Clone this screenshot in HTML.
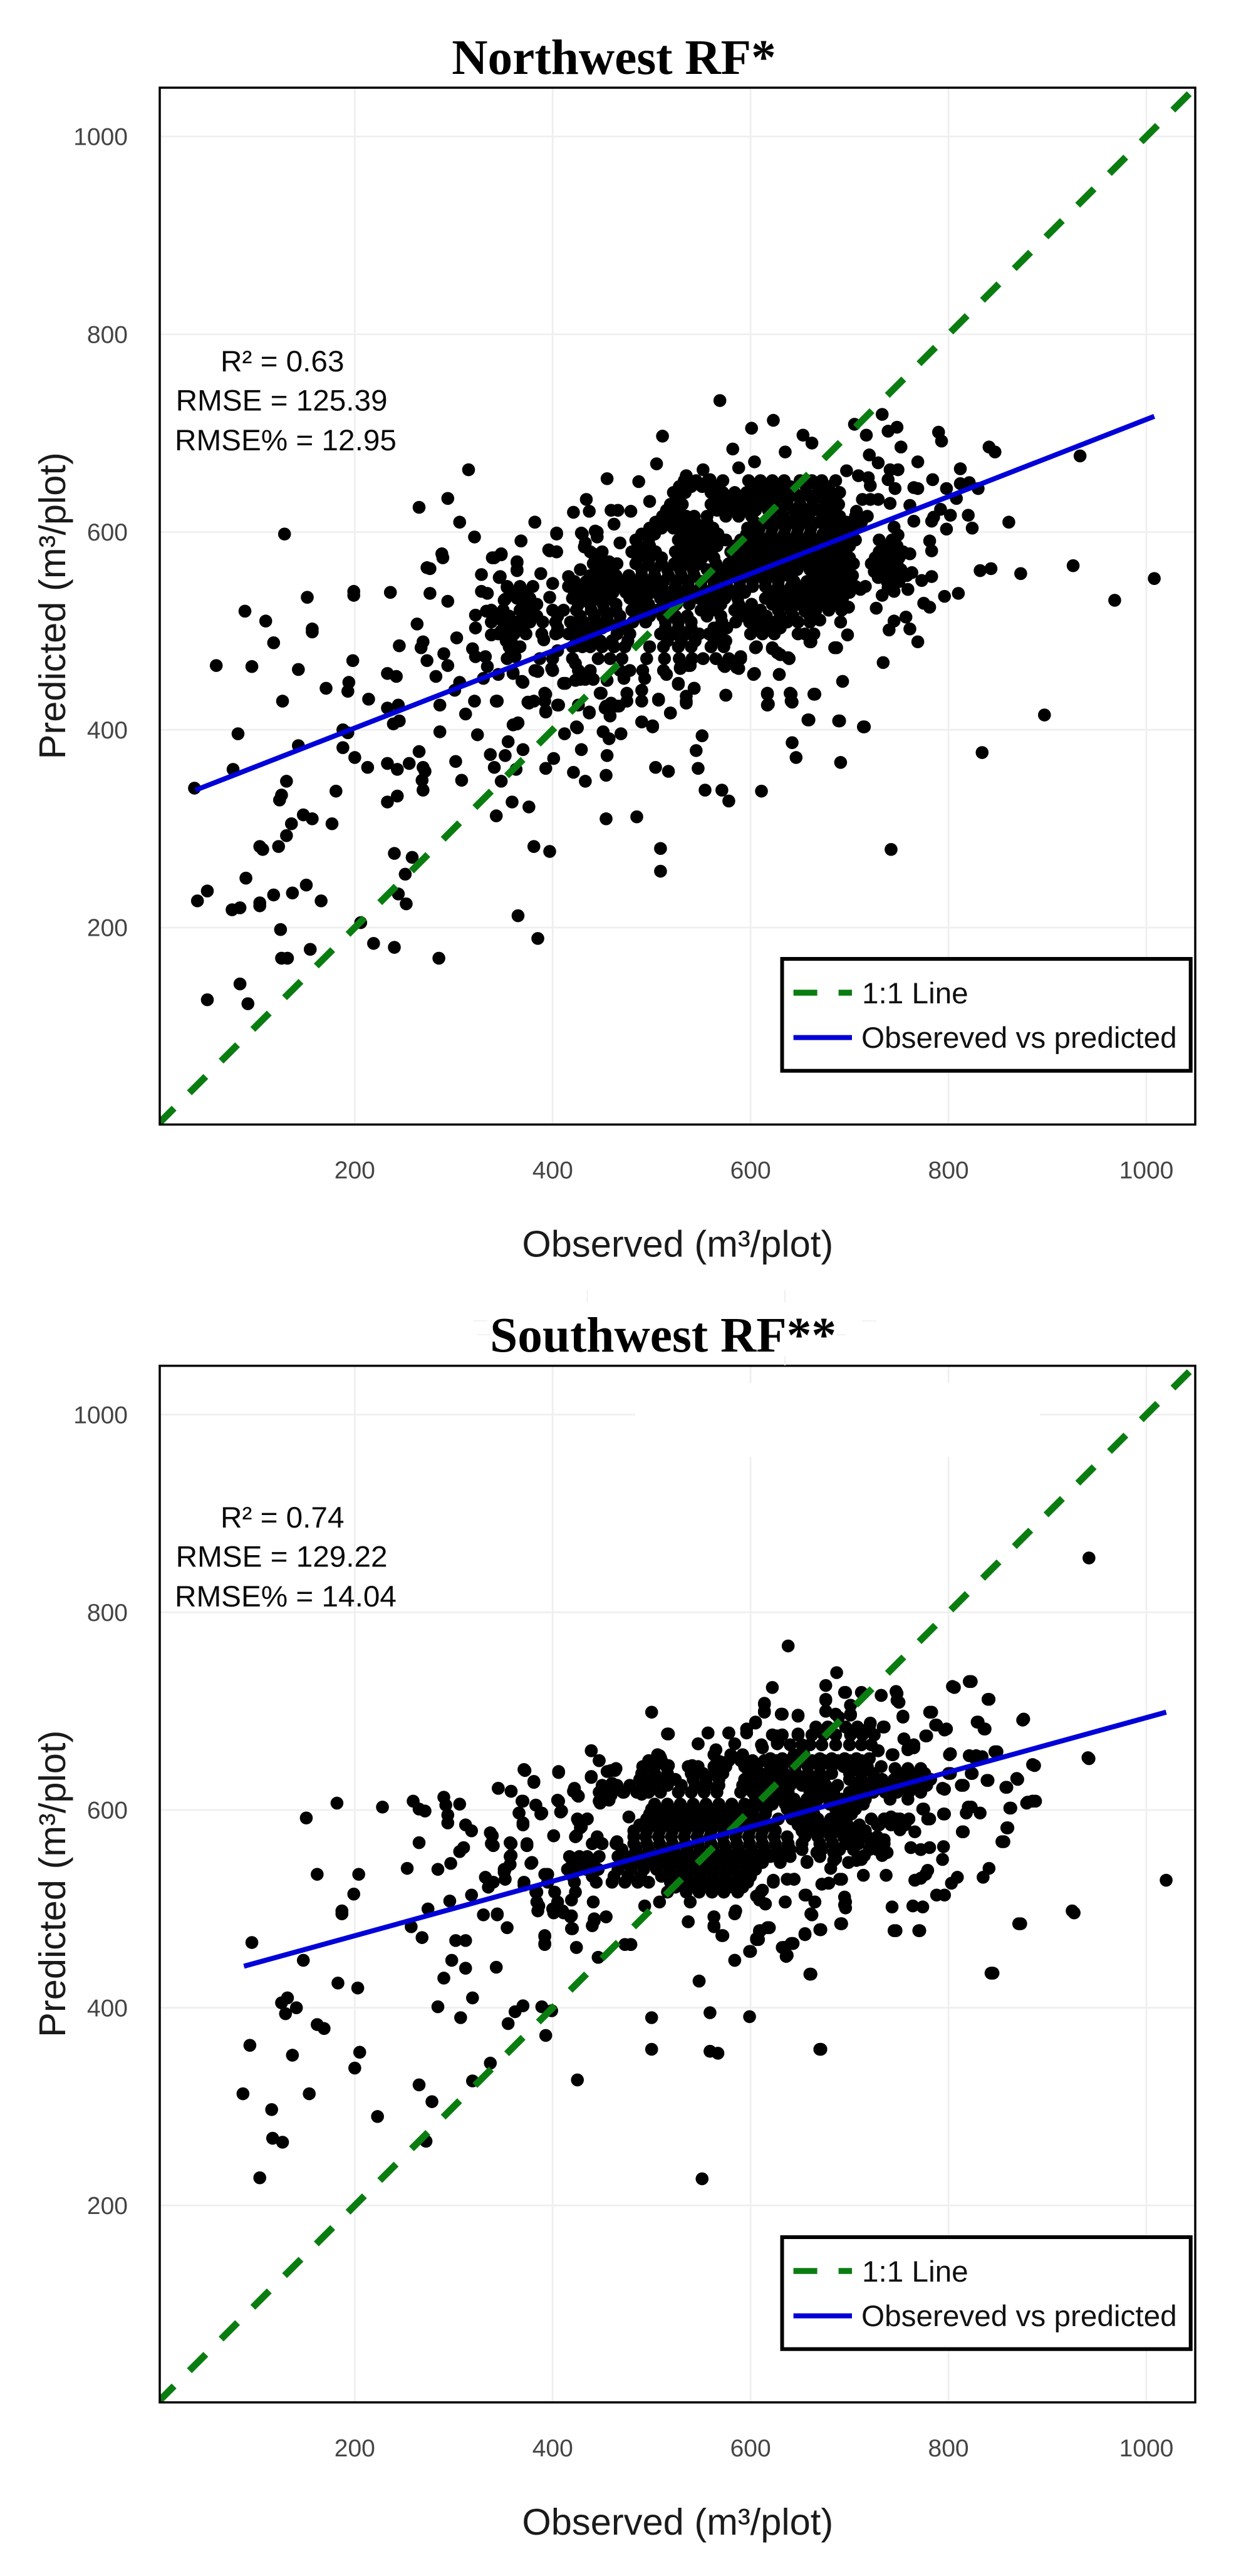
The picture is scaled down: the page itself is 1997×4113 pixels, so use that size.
<!DOCTYPE html>
<html lang="en">
<head>
<meta charset="utf-8">
<title>Observed vs predicted: Northwest RF and Southwest RF</title>
<style>
html,body{margin:0;padding:0;background:#fff;}
svg{display:block;}
</style>
</head>
<body>
<svg id="figure" xmlns="http://www.w3.org/2000/svg" width="1997" height="4113" viewBox="0 0 1997 4113"></svg>
<script>
const xTickValues = [200, 400, 600, 800, 1000];
const yTickValues = [200, 400, 600, 800, 1000];
const axisDomain = [2.9, 1049.4];
const yAxisDomain = [0.8, 1049.4];
const oneToOneRange = [0.8, 1049.4];

const nwTitle = "Northwest RF*";
const nwStats = ["R² = 0.63", "RMSE = 125.39", "RMSE% = 12.95"];
const nwFitObserved = [39, 1008];
const nwFitPredicted = [339, 717];

const swTitle = "Southwest RF**";
const swStats = ["R² = 0.74", "RMSE = 129.22", "RMSE% = 14.04"];
const swFitObserved = [88, 1020];
const swFitPredicted = [442, 699];

const nwPoints = [
[315,663],[294,634],[265,625],[306,610],[129,598],[321,595],[288,578],[289,574],[273,564],[276,563],[276,538],[199,540],[199,536],[236,539],[294,530],[152,534],[89,520],[110,510],[263,507],[157,502],[328,557],[341,574],[348,577],[364,570],[364,562],[368,591],[382,610],[404,599],[397,581],[404,580],[421,620],[434,633],[437,621],[455,654],[459,622],[466,622],[462,608],[429,599],[443,601],[445,595],[433,589],[468,589],[441,578],[457,570],[346,554],
[118,488],[157,499],[60,465],[96,464],[143,461],[198,470],[245,485],[269,489],[267,483],[303,493],[273,470],[290,477],[294,465],[282,454],[233,457],[242,454],[171,442],[194,448],[193,439],[127,429],[214,431],[233,422],[244,425],[245,409],[239,406],[286,425],[286,398],[82,396],[188,400],[193,397],[143,384],[188,382],[200,372],[213,362],[233,366],[243,360],[255,366],[265,378],[269,362],[271,358],[268,349],[269,339],[302,368],[308,349],[77,360],[38,341],[131,348],[181,338],[126,334],[124,329],[233,327],[243,333],[148,314],[157,310],[136,305],[177,305],[131,293],[123,282],[104,282],[107,279],[240,275],[258,271],[251,254],[90,250],[151,243],[51,237],[41,227],[166,227],[137,235],[118,233],[104,225],[104,222],[76,218],[84,220],[244,234],[252,224],[125,198],[206,205],[219,184],[240,180],[155,178],[126,169],[132,169],[285,169],[84,143],[51,127],[92,123],[365,212],[385,189],[381,282],[397,277],[454,310],[343,313],[359,327],[376,322],[348,348],[421,357],[433,348],[454,354],[393,361],[401,371],[455,374],[429,380],[337,375],[341,362],[352,374],[355,388],[370,380],[363,360],[324,395],[365,407],[360,405],[412,396],[425,402],[451,398],[457,391],[469,396],[312,416],[321,429],[343,429],[376,427],[393,436],[393,419],[406,425],[437,417],[449,437],[458,414],[453,422],[465,424],[433,451],[423,450],[413,447],[385,459],[399,462],[370,448],[330,452],[301,440],[306,448],[345,456],[360,457],[319,482],[322,474],[332,474],[334,464],
[897,415],[834,377],[742,279],[509,280],[509,257],[485,312],[611,338],[554,339],[571,339],[578,328],[504,362],[517,358],[547,361],[545,379],[551,394],[642,387],[646,372],[691,367],[659,410],[690,409],[715,403],[665,436],[641,436],[642,428],[617,436],[618,426],[575,435],[693,449],[734,468],[769,489],[761,502],[740,501],[687,483],[698,496],[660,489],[638,473],[629,456],[604,457],[606,484],[622,482],[630,476],[588,462],[590,474],[573,465],[537,465],[529,462],[527,447],[543,442],[535,429],[519,417],[507,431],[490,408],[501,403],
[569,733],[623,713],[601,705],[511,697],[653,698],[662,690],[635,681],[582,684],[588,665],[604,671],[505,669],[487,651],[552,663],[535,657],[559,653],[498,631],[479,621],[733,719],[705,709],[717,698],[739,702],[748,706],[752,686],[790,701],[793,692],[720,678],[729,670],[769,671],[812,664],[841,686],[847,681],[697,662],[709,657],[719,655],[721,647],[741,663],[749,663],[739,653],[746,644],[769,644],[765,645],[784,653],[798,644],[812,649],[821,650],[830,644],[808,634],[861,610],[933,677],[761,627],[741,629],[707,621],[713,633],[721,633],[729,633],[765,611],[783,611],[785,615],[792,623],[802,617],[798,603],[820,617],[824,604],[781,591],[783,581],[832,561],[843,563],[873,558],[926,566],[1008,553],[968,531],[810,538],[796,535],[775,528],[781,524],[727,523],[763,559],[773,551],[783,555],[725,560],[729,554],[759,542],[745,540],[733,536],[739,544],[741,582],[753,578],[761,578],[741,570],[745,564],[749,597],[745,605],[757,514],[745,510],[670,511],[691,509],[711,542],[699,524],
[533,652],[545,652],[557,652],[572,652],[598,652],[610,652],[622,652],[634,652],[650,652],[662,652],[672,652],[686,652],
[522,640],[534,640],[560,640],[572,640],[584,640],[596,640],[608,640],[620,640],[632,640],[644,640],[656,640],[668,640],[680,640],[690,640],
[519,628],[531,628],[560,628],[572,628],[585,628],[598,628],[611,628],[624,628],[637,628],[650,628],[663,628],[676,628],[689,628],
[511,616],[523,616],[535,616],[543,616],[556,616],[575,616],[588,616],[601,616],[620,616],[633,616],[646,616],[659,616],[677,616],[690,616],[706,616],[718,616],
[498,604],[510,604],[522,604],[537,604],[550,604],[562,604],[597,604],[609,604],[622,604],[635,604],[648,604],[661,604],[678,604],[691,604],[704,604],
[484,592],[497,592],[527,592],[539,592],[551,592],[563,592],[575,592],[590,592],[602,592],[615,592],[628,592],[641,592],[654,592],[667,592],[680,592],[693,592],[706,592],[730,592],[743,592],
[438,580],[450,580],[480,580],[492,580],[504,580],[524,580],[536,580],[548,580],[560,580],[580,580],[592,580],[605,580],[618,580],[631,580],[644,580],[657,580],[670,580],[683,580],[696,580],[730,580],[742,580],[754,580],[430,598],[445,600],[432,585],
[441,568],[453,568],[465,568],[484,568],[497,568],[510,568],[523,568],[536,568],[549,568],[565,568],[578,568],[591,568],[604,568],[617,568],[630,568],[643,568],[656,568],[669,568],[682,568],[695,568],[704,568],[722,568],[735,568],[748,568],
[438,556],[451,556],[464,556],[477,556],[490,556],[503,556],[517,556],[530,556],[543,556],[560,556],[573,556],[586,556],[599,556],[612,556],[625,556],[638,556],[664,556],[677,556],[690,556],[703,556],[733,556],[746,556],[758,556],[416,555],[428,562],[388,558],[347,555],[364,561],[364,569],[348,578],[339,574],[368,591],[396,582],[404,580],[404,598],[382,610],
[354,545],[367,545],[380,545],[400,548],[416,545],[429,545],[442,545],[455,545],[468,545],[481,545],[494,545],[507,545],[524,545],[537,545],[550,545],[563,545],[576,545],[589,545],[602,545],[615,545],[628,545],[641,545],[654,545],[667,545],[680,545],[693,545],[706,545],[716,545],
[364,533],[377,533],[351,531],[397,534],[420,533],[432,533],[445,533],[458,533],[478,533],[490,533],[509,533],[522,533],[535,533],[548,533],[561,533],[574,533],[587,533],[615,533],[628,533],[641,533],[654,533],[667,533],[680,533],[693,533],
[338,521],[350,521],[367,521],[379,521],[400,521],[411,521],[424,521],[439,521],[452,521],[464,521],[480,521],[493,521],[506,521],[519,521],[550,521],[565,521],[584,521],[597,521],[610,521],[628,521],[641,521],[655,520],[666,521],[679,521],[692,521],
[338,509],[350,509],[364,509],[377,509],[390,509],[403,509],[418,509],[431,509],[444,509],[456,509],[468,509],[481,509],[494,509],[514,509],[527,509],[540,509],[571,509],[585,509],[599,509],[612,509],[625,509],[637,509],[648,509],[660,509],
[348,497],[361,497],[373,497],[389,497],[403,497],[416,497],[429,497],[442,497],[465,497],[478,497],[509,497],[522,497],[535,497],[548,497],[558,497],[570,497],[600,497],[612,497],[624,497],[648,497],[655,497],[664,497],
[356,484],[367,484],[420,484],[430,484],[438,484],[450,484],[462,484],[473,484],[498,484],[512,484],[527,484],[540,484],[560,484],[573,484],[605,483],[622,483],[627,478],[639,472],[661,489],[685,483],
[354,472],[387,472],[400,472],[420,472],[446,472],[458,472],[470,472],[495,472],[513,472],[528,472],[541,472],[552,472],[565,472],[578,472],[590,472],
[382,460],[400,460],[426,460],[438,460],[468,460],[478,460],[491,460],[512,460],[529,463],[539,465],[574,464],[586,463],[603,456],[629,456],
[369,449],[411,447],[428,451],[441,451],[455,450],[472,452],[493,452],[515,456],[527,446],[543,442],
[392,437],[392,429],[448,437],[475,437],[490,440],[490,429],[507,430],[535,434],[535,427],[575,435],[617,437],[617,425],[640,437],[641,429],[664,436],[344,429],[375,428],[381,429],[405,425],[426,425],[454,424],[467,424],[459,427],[475,429],
[393,418],[437,418],[458,414],[519,417],[364,406],[424,403],[490,408],[501,404],[658,410],[689,409],[714,403],
[322,516],[333,520],[350,512],[322,503],[345,497],[358,490],[354,544],[328,540],[334,538],[352,532],[366,540],[370,528],[338,496],[348,500],[358,480],[362,474],[360,458],[391,491],[405,498],[405,480],[423,485],[423,467]
];

const nwDensePredicted = [646,634,622,610,598,586,574,562,550,539,527,515,503,490];
const nwDenseObserved = [
[528,540,551,566,604,616,628,640,656,668,679],
[525,566,578,590,602,614,626,638,650,662,674,685],
[515,527,566,579,592,605,618,631,644,656,669,682],
[504,516,529,544,556,604,615,628,641,654,669,684,697,712],
[490,503,531,543,555,567,596,608,621,634,647,660,673,686,699],
[486,498,530,542,554,566,584,596,609,622,635,648,661,674,687,700,736,748],
[444,486,498,510,527,539,551,563,585,598,611,624,637,650,663,676,689,700,726,738,750],
[445,458,490,503,516,529,542,556,569,582,595,608,621,634,647,660,673,686,699,728,740,752],
[422,434,447,460,473,486,499,512,525,537,550,563,576,589,602,615,628,644,657,670,683,696,738,750],
[360,372,422,435,448,461,474,487,500,516,529,542,555,568,581,594,621,634,647,660,673,686,700],
[370,384,426,438,451,464,484,497,512,525,538,556,570,588,601,622,635,648,661,674,687],
[344,356,371,384,405,428,442,455,468,485,498,511,524,536,556,570,590,603,616,630,643,660],
[354,367,405,424,437,450,471,514,527,540,563,576,605,617,630],
[353,424,436,448,460,476,516,530,544,563,575]
];

const swPoints = [
[96,466],[148,448],[187,495],[257,482],[268,471],[302,468],[312,468],[298,448],[312,440],[343,441],[290,430],[183,425],[203,420],[319,410],[284,401],[307,390],[132,410],[126,405],[130,394],[141,400],[162,383],[169,379],[355,384],[362,396],[370,402],[389,401],[399,397],[393,372],[94,362],[137,352],[205,355],[200,339],[337,344],[319,326],[425,327],[265,322],[278,305],[87,313],[154,313],[116,297],[223,290],[117,268],[127,264],[272,265],[104,228],
[354,481],[392,472],[392,464],[420,480],[424,461],[446,451],[442,488],[454,492],[473,464],[330,494],[344,494],[385,498],[401,496],[411,496],[419,493],
[479,464],[537,487],[563,492],[563,482],[571,473],[584,495],[584,448],[600,457],[608,469],[610,478],[619,481],[634,461],[642,465],[637,453],[655,475],[671,479],[692,485],[662,494],[661,434],[548,427],[747,478],[771,478],[873,485],[845,435],[927,496],[500,390],[559,395],[599,391],[500,358],[559,356],[567,354],[671,358],[551,227],
[151,592],[182,607],[228,603],[259,609],[265,601],[271,599],[290,613],[292,605],[306,606],[294,595],[294,587],[312,585],[318,579],[265,567],[310,562],[306,558],[162,535],[204,535],[253,541],[284,540],[297,546],[199,515],[187,498],[296,508],[274,500],[318,514],[332,532],[335,522],[337,577],[340,564],[345,622],[358,619],[372,640],[381,628],[370,609],[366,597],[370,587],[383,605],[389,597],[358,566],[358,554],[374,564],[401,574],[378,546],[352,540],[352,530],[406,638],[439,660],[447,650],[439,633],[463,640],[455,639],[421,619],[425,615],[406,609],[409,599],[447,609],[459,625],[459,615],[425,591],[435,591],[429,583],[423,573],[445,573],[465,568],
[942,855],[638,766],[687,739],[806,724],[823,730],[841,712],[942,652],[1020,529],[622,724],[676,726],[696,719],[713,718],[732,716],[748,718],[750,709],[614,708],[614,700],[676,711],[676,700],[701,706],[701,696],[689,694],[500,699],[632,697],[648,696],[754,694],[783,699],[876,692],[830,689],[837,682],[788,686],[798,682],[778,675],[755,672],[765,663],[759,661],[605,688],[596,682],[557,678],[517,677],[547,667],[578,678],[584,667],[627,675],[628,669],[648,676],[735,684],[721,688],[612,663],[802,657],[826,653],[834,654],[849,659],[887,645],[744,656],[729,660],[565,661],[569,649],[509,653],[517,645],[493,643],[541,645],[541,641],[802,637],[824,637],[840,630],[870,631],[859,623],[815,625],[796,621],[863,602],[880,608],[888,609],[796,596],[823,603],[818,597],[832,597],[775,601],[781,591],[860,582],[856,568],[815,578],
[762,562],[772,560],[781,562],[795,563],[794,550],[772,531],[779,539],[766,529],[777,535],[803,526],[809,532],[835,532],[841,541],[788,514],[796,514],[764,503],[774,502],[743,502],[745,478],[770,478],[737,534],[714,534],[695,512],[695,504],[690,530],[679,526],[672,525],[684,549],[681,541],[684,557],[699,547],[712,550],[715,554],[707,549],[733,554],[738,557],[728,560],[729,570],[735,570],[712,580],[704,570],[699,580],[728,585],[735,591],[742,593],[751,591],[756,585],[751,580],[766,578],[774,601],[779,591],[795,596],[814,578],[820,603],[862,602],[859,582],[854,568],[879,607],[885,609],[885,646],[869,632],[858,623],[839,630],[813,625],[823,637],[800,637],[794,622],[828,655],[821,655],[847,659],[801,656],[743,656],[729,660],[732,644],[755,672],[759,662],[765,666],[777,675],[787,686],[796,681],[781,699],[754,695],[829,689],[836,682],[875,691],[840,712],[804,725],[821,730],[941,653],[925,498],[871,485],[843,435],[660,434],[670,358],[636,452],[634,461],[641,465],[655,474],[670,479],[692,485],[606,470],[609,477],[617,481],[661,495],[665,507],[655,514],[635,507],[615,505],[606,513],[611,518],[623,529],[644,530],[637,530],[657,547],[652,560],[667,557],[634,557],
[695,719],[712,719],[732,716],[747,720],[748,711],[676,712],[676,700],[701,706],[701,697],[614,707],[614,699],[631,697],[648,695],[605,689],[686,697],
[666,684],[678,684],[696,684],[708,684],[720,684],[734,684],[622,676],[632,676],[648,676],[662,676],[674,676],[686,676],[701,676],[713,676],[725,676],
[611,666],[627,668],[640,666],[652,666],[660,666],[672,666],[686,666],[700,666],[712,666],[722,666],
[506,656],[563,656],[580,656],[592,656],[644,656],[654,656],[620,652],[632,652],[643,652],[670,652],[682,652],[695,652],[707,652],[720,652],
[491,644],[503,644],[515,644],[537,644],[547,644],[563,644],[575,644],[594,644],[606,644],[620,644],[632,644],[645,644],[658,644],[670,644],[682,644],[694,644],[706,644],[718,644],[746,642],[759,642],[772,642],
[488,631],[500,631],[512,631],[524,631],[542,631],[555,631],[568,631],[594,631],[606,631],[618,631],[630,631],[642,631],[654,631],[666,631],[674,631],[700,631],[712,631],[724,631],[733,631],[745,631],[757,631],[770,631],[782,631],
[447,618],[459,618],[471,618],[485,618],[497,618],[509,618],[527,618],[540,618],[553,618],[566,618],[590,618],[602,618],[614,618],[626,618],[638,618],[660,618],[672,618],[684,618],[700,618],[712,618],[724,618],[736,618],[748,618],[760,618],[772,618],
[605,611],[618,611],[631,611],[644,611],[657,611],[668,611],[680,611],[692,611],[704,611],[716,611],[741,611],[759,611],
[500,601],[513,601],[526,601],[539,601],[552,601],[565,601],[578,601],[591,601],[603,601],[616,601],[637,601],[650,601],[662,601],[686,601],[698,601],[706,601],
[495,591],[508,591],[521,591],[534,591],[547,591],[560,591],[573,591],[586,591],[599,591],[612,591],[628,591],[642,591],[655,591],[668,591],[681,591],[694,591],[722,591],[735,591],[748,591],[760,591],
[482,579],[495,579],[508,579],[521,579],[534,579],[547,579],[560,579],[573,579],[586,579],[599,579],[612,579],[625,579],[652,579],[665,579],[678,579],[691,579],[704,579],[716,579],
[482,566],[495,566],[508,566],[521,566],[534,566],[547,566],[560,566],[573,566],[586,566],[599,566],[612,566],[625,566],[638,566],[652,566],[670,566],[683,566],[696,566],[709,566],[722,566],[735,566],[440,566],[450,566],[464,566],
[417,553],[427,553],[435,553],[447,553],[466,553],[479,553],[492,553],[505,553],[518,553],[531,553],[544,553],[557,553],[570,553],[583,553],[596,553],[609,553],[620,553],[626,553],[640,553],[657,548],[670,553],[686,551],[711,550],
[351,540],[415,540],[424,540],[434,540],[446,540],[466,540],[479,540],[492,540],[505,540],[518,540],[531,540],[544,540],[557,540],[570,540],[583,540],[596,540],[605,540],
[340,527],[371,527],[392,535],[395,527],[422,527],[444,527],[460,527],[473,527],[486,527],[497,527],[519,527],[532,527],[545,527],[558,527],[571,527],[584,527],[597,527],[623,527],[644,530],[679,526],[692,530],
[384,517],[402,517],[423,517],[516,517],[535,517],[548,517],[561,517],[573,517],[587,517],[612,519],
[384,507],[405,507],[419,509],[441,507],[493,503],[508,507],[539,507],[344,495],[386,503],[400,500],[410,498],[418,492],[419,480],[442,490],[440,483],[454,492],[392,473],[392,465],[424,461],[479,464],[446,451],[563,492],[563,483],[572,473],[537,487],[585,498],[618,481],[609,478],[606,469],[599,457],[584,448],[548,427],[643,465],[632,461],[636,452],[655,474],[671,479],[691,485],[660,434],[696,507],[696,501],[661,495],[635,507],[615,505],[609,509],[656,514],[665,507],
[516,677],[557,678],[547,667],[578,678],[596,678],[626,675],[627,667],[648,677],[439,660],[447,650],[371,641],[381,629],[406,639],[439,634],[459,640],[464,642],[460,627],[345,622],[358,619],[422,622],[426,614],[405,610],[408,598],[369,609],[366,597],[370,585],[383,605],[388,596],[426,589],[435,591],[424,574],[428,582],[401,574],[477,593],[449,613],[448,607],[457,610],[472,618],[490,616],[508,655],[339,574],[338,566],[357,567],[374,566],[357,553],[357,545],[351,537],[352,530],[379,547],[339,527],[371,524],[395,535],[383,517]
];

const swDensePredicted = [650,637,625,606,596,585,573,560,547,533,522];
const swDenseObserved = [
[497,510,566,578,590,602,614,626,638,650,662,674,688,700,712],
[490,503,516,540,552,564,572,598,610,622,634,646,658,670,682,700,712,724,750,762,776],
[450,465,478,491,503,516,530,544,556,568,592,604,616,628,640,652,664,676,688,706,718,730,742,754,766,778],
[503,516,529,542,555,568,581,594,610,622,635,648,660,680,692,704,714],
[498,511,524,537,550,563,576,589,602,615,640,652,664,690,702],
[488,501,514,527,540,553,566,579,592,605,618,648,660,672,685,698,710,730,742,754],
[482,494,507,520,533,546,559,572,585,598,611,624,637,655,668,681,694,707,718,728],
[470,484,497,510,523,536,549,562,575,588,601,614,627,640,672,690,704,720],
[420,430,441,472,485,498,511,524,537,550,563,576,589,602,612,630],
[420,440,462,476,489,510,523,536,549,562,575,588,600],
[524,538,551,564,578,592]
];

const figure = document.getElementById('figure');
const svgNS = 'http://www.w3.org/2000/svg';

function makeEl(tag, parent, name, attrs, text) {
  const el = document.createElementNS(svgNS, tag);
  
  
  Object.keys(attrs).forEach(function (k) { el.setAttribute(k, attrs[k]); });
  if (text !== undefined) el.textContent = text;
  parent.appendChild(el);
  return el;
}

const sans = '"Liberation Sans", Arial, sans-serif';
const serif = '"Liberation Serif", "Times New Roman", serif';

function drawPanel(prefix, frame, title, stats, points, densePred, denseObs, fitX, fitY) {
  const group = makeEl('g', figure, prefix + '-panel', {});
  const xScale = function (v) { return frame.left + (v - axisDomain[0]) / (axisDomain[1] - axisDomain[0]) * (frame.right - frame.left); };
  const yScale = function (v) { return frame.bottom - (v - yAxisDomain[0]) / (yAxisDomain[1] - yAxisDomain[0]) * (frame.bottom - frame.top); };

  makeEl('text', group, prefix + '-chart-title', { x: 980 + frame.titleShift, y: frame.titleBase, 'text-anchor': 'middle', 'font-family': serif, 'font-weight': 'bold', 'font-size': 79.3, fill: '#000' }, title);

  const clipId = prefix + '-clip';
  const defs = makeEl('defs', group, prefix + '-clip-defs', {});
  const clip = makeEl('clipPath', defs, prefix + '-plot-clip', { id: clipId });
  makeEl('rect', clip, prefix + '-plot-clip-area', { x: frame.left, y: frame.top, width: frame.right - frame.left, height: frame.bottom - frame.top });

  const grid = makeEl('g', group, prefix + '-gridlines', {});
  xTickValues.forEach(function (t) {
    makeEl('line', grid, prefix + '-x-gridline', { x1: xScale(t), x2: xScale(t), y1: frame.top, y2: frame.bottom, stroke: '#efefef', 'stroke-width': 2.8 });
    makeEl('text', group, prefix + '-x-tick-label', { x: xScale(t), y: frame.bottom + 86, 'text-anchor': 'middle', 'font-family': sans, 'font-size': 39, fill: '#444' }, String(t));
  });
  yTickValues.forEach(function (t) {
    makeEl('line', grid, prefix + '-y-gridline', { x1: frame.left, x2: frame.right, y1: yScale(t), y2: yScale(t), stroke: '#efefef', 'stroke-width': 2.8 });
    makeEl('text', group, prefix + '-y-tick-label', { x: 204, y: yScale(t) + 13.7, 'text-anchor': 'end', 'font-family': sans, 'font-size': 39, fill: '#444' }, String(t));
  });
  if (frame.mask) {
    makeEl('rect', group, prefix + '-grid-erased-patch', { x: frame.mask[0], y: frame.mask[1], width: frame.mask[2], height: frame.mask[3], fill: '#fff' });
  }

  const pointLayer = makeEl('g', group, prefix + '-scatter-points', { 'clip-path': 'url(#' + clipId + ')' });
  function addDot(obs, pred) {
    const dot = document.createElementNS(svgNS, 'circle');
    
    
    dot.setAttribute('cx', xScale(obs));
    dot.setAttribute('cy', yScale(pred));
    dot.setAttribute('r', 10.3);
    dot.setAttribute('fill', '#000');
    pointLayer.appendChild(dot);
  }
  points.forEach(function (p) { addDot(p[0], p[1]); });
  densePred.forEach(function (pred, i) {
    denseObs[i].forEach(function (obs) { addDot(obs, pred); });
  });

  makeEl('line', group, prefix + '-one-to-one-line', { x1: xScale(oneToOneRange[0]), y1: yScale(oneToOneRange[0]), x2: xScale(oneToOneRange[1]), y2: yScale(oneToOneRange[1]), stroke: '#0a7d10', 'stroke-width': 11, 'stroke-dasharray': '37 34.6', 'clip-path': 'url(#' + clipId + ')' });
  makeEl('line', group, prefix + '-fit-line', { x1: xScale(fitX[0]), y1: yScale(fitY[0]), x2: xScale(fitX[1]), y2: yScale(fitY[1]), stroke: '#0000d8', 'stroke-width': 8 });

  makeEl('rect', group, prefix + '-plot-border', { x: frame.left, y: frame.top, width: frame.right - frame.left, height: frame.bottom - frame.top, fill: 'none', stroke: '#000', 'stroke-width': 3.5 });

  stats.forEach(function (s, i) {
    makeEl('text', group, prefix + '-stat-label', { x: [352, 280.6, 279][i], y: frame.statBase[i], 'font-family': sans, 'font-size': 47.7, fill: '#0a0a0a' }, s);
  });

  makeEl('text', group, prefix + '-x-axis-title', { x: 1081.8, y: frame.bottom + 211, 'text-anchor': 'middle', 'font-family': sans, 'font-size': 59.6, fill: '#1a1a1a' }, 'Observed (m³/plot)');
  makeEl('text', group, prefix + '-y-axis-title', { x: 0, y: 0, transform: 'translate(104,' + ((frame.top + frame.bottom) / 2 - 0.5) + ') rotate(-90)', 'text-anchor': 'middle', 'font-family': sans, 'font-size': 59.6, fill: '#1a1a1a' }, 'Predicted (m³/plot)');

  const legendTop = frame.legendTop;
  const legend = makeEl('g', group, prefix + '-legend', {});
  makeEl('rect', legend, prefix + '-legend-box', { x: 1248.5, y: legendTop + 3, width: 652.2, height: 178.7, fill: '#fff', stroke: '#000', 'stroke-width': 6 });
  makeEl('line', legend, prefix + '-legend-one-to-one-swatch', { x1: 1266.6, x2: 1360, y1: legendTop + 57, y2: legendTop + 57, stroke: '#0a7d10', 'stroke-width': 9.5, 'stroke-dasharray': '38 34' });
  makeEl('text', legend, prefix + '-legend-one-to-one-label', { x: 1376, y: legendTop + 74, 'font-family': sans, 'font-size': 47.7, fill: '#111' }, '1:1 Line');
  makeEl('line', legend, prefix + '-legend-fit-swatch', { x1: 1266.6, x2: 1360, y1: legendTop + 128.6, y2: legendTop + 128.6, stroke: '#0000d8', 'stroke-width': 8 });
  makeEl('text', legend, prefix + '-legend-fit-label', { x: 1375, y: legendTop + 145, 'font-family': sans, 'font-size': 47.7, fill: '#111' }, 'Obsereved vs predicted');
}

drawPanel('northwest', { left: 255, right: 1908, top: 140, bottom: 1795.5, titleBase: 118, titleShift: 0, statBase: [593, 655.6, 719], legendTop: 1528 }, nwTitle, nwStats, nwPoints, nwDensePredicted, nwDenseObserved, nwFitObserved, nwFitPredicted);
drawPanel('southwest', { left: 255, right: 1908, top: 2180.7, bottom: 3835.8, titleBase: 2158, titleShift: 78.6, statBase: [2439, 2501.5, 2565], legendTop: 3569, mask: [1014, 2208, 646, 118] }, swTitle, swStats, swPoints, swDensePredicted, swDenseObserved, swFitObserved, swFitPredicted);

const artifacts = makeEl('g', figure, 'faint-gridline-remnants', {});
makeEl('line', artifacts, 'remnant-horizontal', { x1: 762, x2: 782, y1: 2131, y2: 2131, stroke: '#f2f2f2', 'stroke-width': 2 });
makeEl('line', artifacts, 'remnant-horizontal', { x1: 1336, x2: 1350, y1: 2131, y2: 2131, stroke: '#f2f2f2', 'stroke-width': 2 });
makeEl('line', artifacts, 'remnant-horizontal', { x1: 755, x2: 778, y1: 2109, y2: 2109, stroke: '#f2f2f2', 'stroke-width': 2 });
makeEl('line', artifacts, 'remnant-horizontal', { x1: 1376, x2: 1399, y1: 2109, y2: 2109, stroke: '#f2f2f2', 'stroke-width': 2 });
makeEl('line', artifacts, 'remnant-vertical', { x1: 937.5, x2: 937.5, y1: 2060, y2: 2079, stroke: '#efefef', 'stroke-width': 2 });
makeEl('line', artifacts, 'remnant-vertical', { x1: 1253, x2: 1253, y1: 2060, y2: 2079, stroke: '#efefef', 'stroke-width': 2 });
makeEl('line', artifacts, 'remnant-vertical', { x1: 1253, x2: 1253, y1: 2165, y2: 2180, stroke: '#efefef', 'stroke-width': 2 });
</script>
</body>
</html>
